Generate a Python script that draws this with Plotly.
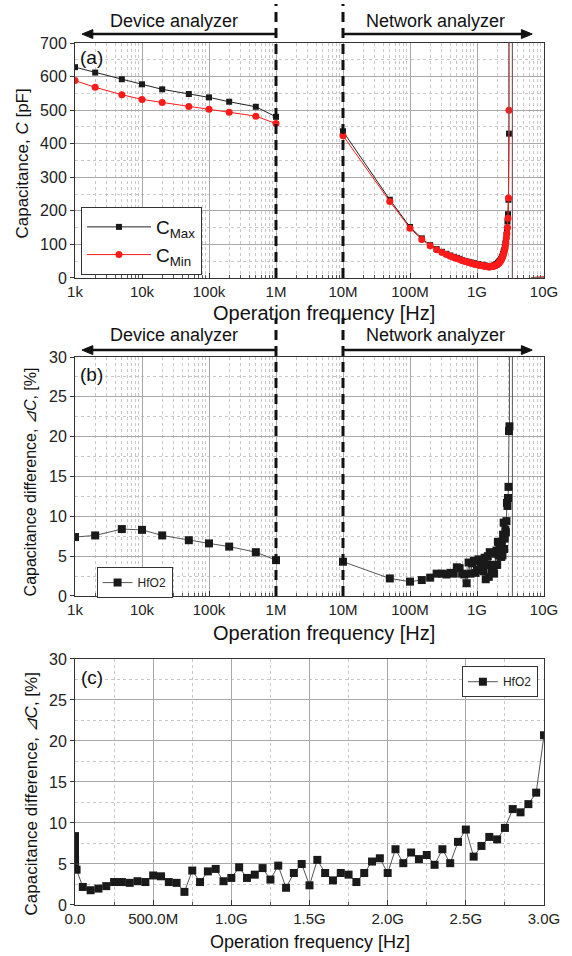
import math
import plotly.graph_objects as go

FONT = "Liberation Sans, Arial, sans-serif"

# ---------------- data ----------------
# Device analyzer sweep (kHz)
dev_freq_khz = [1, 2, 5, 10, 20, 50, 100, 200, 500, 1000]
dev_cmax = [628, 612, 592, 577, 562, 548, 538, 525, 510, 480]
dev_cmin = [588, 568, 546, 532, 523, 511, 503, 494, 482, 460]
dev_dc = [7.4, 7.6, 8.4, 8.3, 7.6, 7.0, 6.6, 6.2, 5.5, 4.5]

# Network analyzer sweep (MHz)
net_freq_mhz = [10, 50, 100, 150, 200, 250, 300, 350, 400, 450, 500, 550, 600, 650,
                700, 750, 800, 850, 900, 950, 1000, 1050, 1100, 1150, 1200, 1250,
                1300, 1350, 1400, 1450, 1500, 1550, 1600, 1650, 1700, 1750, 1800,
                1850, 1900, 1950, 2000, 2050, 2100, 2150, 2200, 2250, 2300, 2350,
                2400, 2450, 2500, 2550, 2600, 2650, 2700, 2750, 2800, 2850, 2900,
                2950, 3000]
net_cmax = [437, 233, 152, 118, 98, 86, 78, 72, 67, 63, 60, 57, 53, 51, 49, 48, 46, 45,
            44, 42, 41, 41, 39, 38, 39, 37, 37, 36, 35, 36, 34, 35, 35, 35, 36, 36, 37,
            38, 40, 41, 42, 45, 46, 49, 51, 54, 57, 62, 65, 72, 79, 83, 92, 103, 114,
            129, 147, 168, 190, 233, 430]
net_cmin = [424, 228, 148, 115, 96, 84, 76, 70, 65, 61, 58, 55, 52, 50, 48, 46, 45, 43,
            42, 41, 40, 39, 38, 37, 37, 36, 35, 35, 34, 34, 33, 33, 34, 34, 35, 35, 36,
            37, 38, 39, 40, 42, 44, 46, 48, 51, 54, 58, 62, 67, 72, 78, 86, 95, 105,
            118, 132, 150, 178, 238, 500]
net_dc = [4.3, 2.2, 1.8, 2.0, 2.3, 2.8, 2.8, 2.7, 2.9, 2.8, 3.6, 3.5, 2.8, 2.7, 1.6,
          4.2, 2.8, 4.1, 4.4, 2.9, 3.3, 4.6, 3.3, 3.7, 4.5, 3.1, 4.8, 2.1, 3.9, 5.0,
          2.4, 5.5, 3.9, 3.0, 3.9, 3.7, 2.8, 3.9, 5.3, 5.7, 3.9, 6.8, 5.1, 6.4, 5.6,
          6.1, 4.9, 6.8, 5.1, 7.7, 9.2, 5.9, 7.2, 8.3, 8.0, 9.4, 11.7, 11.3, 12.3,
          13.7, 20.7]

# Above the resonance (off-scale excursion, then ~0)
tail_c_freq_mhz = [3350, 3400, 6500, 8000, 10000]
tail_cmax = [100000, -100000, 0.3, 0.5, 1.0]
tail_cmin = [100000, -100000, 1.5, 2.5, 4.0]
tail_dc_freq_mhz = [3050, 3350, 3400]
tail_dc = [21.3, 10000, -10000]

log_tickvals = [1e3, 1e4, 1e5, 1e6, 1e7, 1e8, 1e9, 1e10]
log_ticktext = ["1k", "10k", "100k", "1M", "10M", "100M", "1G", "10G"]
lin_tickvals = [0, 0.5e9, 1.0e9, 1.5e9, 2.0e9, 2.5e9, 3.0e9]
lin_ticktext = ["0.0", "500.0M", "1.0G", "1.5G", "2.0G", "2.5G", "3.0G"]

# ---------------- unit conversion ----------------
dev_f = [v * 1e3 for v in dev_freq_khz]
net_f = [v * 1e6 for v in net_freq_mhz]
tail_c_f = [net_f[-1]] + [v * 1e6 for v in tail_c_freq_mhz]
tail_cmax_y = [net_cmax[-1]] + tail_cmax
tail_cmin_y = [net_cmin[-1]] + tail_cmin
tail_dc_f = [v * 1e6 for v in tail_dc_freq_mhz]

fig = go.Figure()

BLK = "#1a1a1a"
RED = "#ff1a1a"
blk = dict(color="#222", width=1)
red = dict(color=RED, width=1)
mk_sq_a = dict(symbol="square", size=6, color=BLK)
mk_ci_a = dict(symbol="circle", size=7, color=RED)

# ---- panel (a)
fig.add_trace(go.Scatter(x=dev_f, y=dev_cmax, mode="lines+markers", name="C<sub>Max</sub>",
                         line=blk, marker=mk_sq_a, xaxis="x", yaxis="y", legend="legend"))
fig.add_trace(go.Scatter(x=dev_f, y=dev_cmin, mode="lines+markers", name="C<sub>Min</sub>",
                         line=red, marker=mk_ci_a, xaxis="x", yaxis="y", legend="legend"))
fig.add_trace(go.Scatter(x=net_f, y=net_cmax, mode="lines+markers", showlegend=False,
                         line=blk, marker=mk_sq_a, xaxis="x", yaxis="y"))
fig.add_trace(go.Scatter(x=net_f, y=net_cmin, mode="lines+markers", showlegend=False,
                         line=red, marker=mk_ci_a, xaxis="x", yaxis="y"))
fig.add_trace(go.Scatter(x=tail_c_f, y=tail_cmin_y, mode="lines", showlegend=False,
                         line=red, xaxis="x", yaxis="y"))
fig.add_trace(go.Scatter(x=tail_c_f, y=tail_cmax_y, mode="lines", showlegend=False,
                         line=dict(color="#666", width=1), xaxis="x", yaxis="y"))

# ---- panel (b)
gl = dict(color="#555", width=1)
sq = dict(symbol="square", size=8, color=BLK)
fig.add_trace(go.Scatter(x=dev_f, y=dev_dc, mode="lines+markers", name="HfO2",
                         line=gl, marker=sq, xaxis="x2", yaxis="y2", legend="legend2"))
fig.add_trace(go.Scatter(x=net_f + tail_dc_f, y=net_dc + tail_dc, mode="lines+markers",
                         showlegend=False, line=gl, marker=sq, xaxis="x2", yaxis="y2"))

# ---- panel (c)
fig.add_trace(go.Scatter(x=dev_f + net_f + tail_dc_f, y=dev_dc + net_dc + tail_dc,
                         mode="lines+markers", name="HfO2",
                         line=gl, marker=sq, xaxis="x3", yaxis="y3", legend="legend3"))

# ---------------- axes ----------------
tickfont = dict(family=FONT, size=15, color="#222")
ytickfont = dict(family=FONT, size=16, color="#222")
major_grid = "#a8a8a8"
minor_grid = "#c8c8c8"
log_minor = [m * 10 ** e for e in range(3, 10) for m in range(2, 10)]


def xlog(anchor):
    return dict(type="log", range=[3, 10], domain=[0, 1], anchor=anchor,
                tickvals=log_tickvals, ticktext=log_ticktext, tickfont=tickfont,
                showline=True, linecolor="#333", linewidth=1, mirror=True,
                ticks="inside", ticklen=5, tickcolor="#333",
                showgrid=True, gridcolor=major_grid, gridwidth=1, zeroline=False,
                minor=dict(tickvals=log_minor, ticks="inside", ticklen=3, tickcolor="#555",
                           showgrid=True, gridcolor=minor_grid, griddash="dot", gridwidth=1))


def yax(anchor, dom, rng, dt):
    return dict(domain=dom, anchor=anchor, range=rng, dtick=dt, tickfont=ytickfont,
                showline=True, linecolor="#333", linewidth=1, mirror=True,
                ticks="outside", ticklen=4, tickcolor="#333",
                showgrid=True, gridcolor=major_grid, gridwidth=1, zeroline=False,
                minor=dict(dtick=dt / 2, ticks="", showgrid=True, gridcolor=minor_grid,
                           griddash="dot", gridwidth=1))


layout = dict(
    width=572, height=956,
    margin=dict(l=75, r=23, t=43, b=51),
    paper_bgcolor="white", plot_bgcolor="white",
    font=dict(family=FONT, color="#111"),
    xaxis=xlog("y"),
    yaxis=yax("x", [0.7274, 1.0], [0, 700], 100),
    xaxis2=xlog("y2"),
    yaxis2=yax("x2", [0.3585, 0.6357], [0, 30], 5),
    xaxis3=dict(range=[0, 3e9], domain=[0, 1], anchor="y3",
                tickvals=lin_tickvals, ticktext=lin_ticktext, tickfont=tickfont,
                showline=True, linecolor="#333", linewidth=1, mirror=True,
                ticks="inside", ticklen=5, tickcolor="#333",
                showgrid=True, gridcolor=major_grid, gridwidth=1, zeroline=False,
                minor=dict(dtick=0.25e9, ticks="inside", ticklen=3, tickcolor="#555",
                           showgrid=True, gridcolor=minor_grid, griddash="dot", gridwidth=1)),
    yaxis3=yax("x3", [0.0, 0.2854], [0, 30], 5),
    showlegend=True,
    legend=dict(x=0.0127, y=0.8097, xanchor="left", yanchor="top",
                bgcolor="white", bordercolor="#333", borderwidth=1,
                font=dict(family=FONT, size=19, color="#111"),
                itemwidth=64, tracegroupgap=2),
    legend2=dict(x=0.046, y=0.392, xanchor="left", yanchor="top",
                 bgcolor="white", bordercolor="#333", borderwidth=1,
                 font=dict(family=FONT, size=12, color="#222"), itemwidth=30),
    legend3=dict(x=0.987, y=0.277, xanchor="right", yanchor="top",
                 bgcolor="white", bordercolor="#333", borderwidth=1,
                 font=dict(family=FONT, size=12, color="#222"), itemwidth=30),
)
fig.update_layout(**layout)

# ---------------- separators and analyzer arrows ----------------
def dom_of(f):
    return (math.log10(f) - 3) / 7


shapes = []
for xa, ya, top, ay, hpx in [("x", "y", 1.166, 1.038, 235), ("x2", "y2", 1.163, 1.029, 239)]:
    for f in [1e6, 1e7]:
        fr = dom_of(f)
        shapes.append(dict(type="line", xref=xa + " domain", yref=ya + " domain",
                           x0=fr, x1=fr, y0=0, y1=top,
                           line=dict(color="#111", width=3, dash="10px,6px")))
    hl = 11 / 474.0
    hh = 4.5 / hpx
    for tail, head in [(dom_of(1e6), 0.0148), (dom_of(1e7), 0.975)]:
        d = 1 if head > tail else -1
        shapes.append(dict(type="line", xref=xa + " domain", yref=ya + " domain",
                           x0=tail, x1=head - d * hl * 0.6, y0=ay, y1=ay,
                           line=dict(color="#111", width=2.5)))
        path = "M {:.4f},{:.4f} L {:.4f},{:.4f} L {:.4f},{:.4f} Z".format(
            head, ay, head - d * hl, ay + hh, head - d * hl, ay - hh)
        shapes.append(dict(type="path", xref=xa + " domain", yref=ya + " domain",
                           path=path, fillcolor="#111", line=dict(color="#111", width=1)))
fig.update_layout(shapes=shapes)

# ---------------- annotations ----------------
ann = []
for xa, ya, ty in [("x", "y", 1.094), ("x2", "y2", 1.092)]:
    ann.append(dict(xref=xa + " domain", yref=ya + " domain", x=0.211, y=ty,
                    xanchor="center", yanchor="middle",
                    text="Device analyzer", showarrow=False,
                    font=dict(family=FONT, size=18, color="#111")))
    ann.append(dict(xref=xa + " domain", yref=ya + " domain", x=0.768, y=ty,
                    xanchor="center", yanchor="middle",
                    text="Network analyzer", showarrow=False,
                    font=dict(family=FONT, size=18, color="#111")))

for xa, ya, lab, yy in [("x", "y", "(a)", 0.94), ("x2", "y2", "(b)", 0.925),
                        ("x3", "y3", "(c)", 0.923)]:
    ann.append(dict(xref=xa + " domain", yref=ya + " domain", x=0.036, y=yy, text=lab,
                    xanchor="center", yanchor="middle",
                    showarrow=False, font=dict(family=FONT, size=19, color="#111")))

for xa, ya, yy, xx, fs in [("x", "y", -0.149, 0.53, 20), ("x2", "y2", -0.155, 0.53, 20),
                           ("x3", "y3", -0.150, 0.50, 18)]:
    ann.append(dict(xref=xa + " domain", yref=ya + " domain", x=xx, y=yy,
                    xanchor="center", yanchor="middle",
                    text="Operation frequency [Hz]", showarrow=False,
                    font=dict(family=FONT, size=fs, color="#111")))

ann.append(dict(xref="x domain", yref="y domain", x=-0.112, y=0.489, textangle=-90,
                xanchor="center", yanchor="middle",
                text="Capacitance, <i>C</i> [pF]", showarrow=False,
                font=dict(family=FONT, size=17, color="#111")))
ann.append(dict(xref="x2 domain", yref="y2 domain", x=-0.093, y=0.477, textangle=-90,
                xanchor="center", yanchor="middle",
                text="Capacitance difference, <i>⊿C</i>, [%]", showarrow=False,
                font=dict(family=FONT, size=16, color="#111")))
ann.append(dict(xref="x3 domain", yref="y3 domain", x=-0.093, y=0.451, textangle=-90,
                xanchor="center", yanchor="middle",
                text="Capacitance difference, <i>⊿C</i>, [%]", showarrow=False,
                font=dict(family=FONT, size=17, color="#111")))
fig.update_layout(annotations=ann)

fig.write_html("out.html", config={"displayModeBar": False},
               post_script="document.body.style.margin='0px';")
